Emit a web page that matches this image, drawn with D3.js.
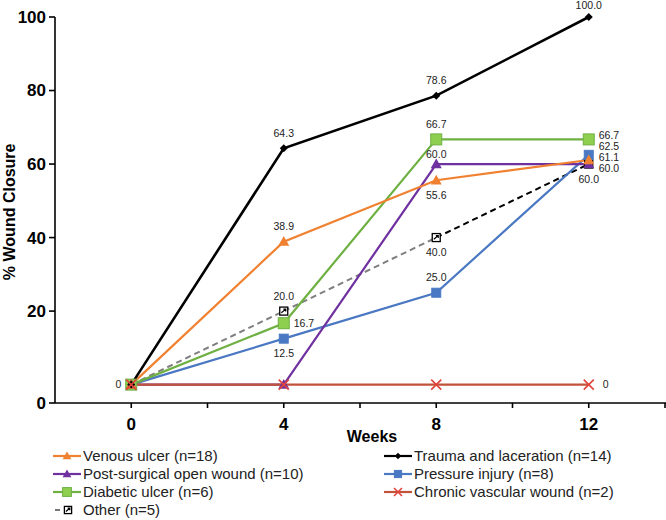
<!DOCTYPE html>
<html><head><meta charset="utf-8">
<script src="https://cdn.jsdelivr.net/npm/d3@7"></script>
<style>body{margin:0;background:#fff}svg{display:block;font-family:"Liberation Sans",Arial,sans-serif}</style>
</head><body><svg id="c" width="666" height="520"></svg>
<script>
const weeks = [0, 4, 8, 12];
const xTickValues = [0, 2, 4, 6, 8, 10, 12, 14];
const xTickLabels = ["0", "4", "8", "12"];
const yTickValues = [20, 40, 60, 80, 100];
const yTickLabels = ["20", "40", "60", "80", "100"];
const yBottomLabel = "0";
const seriesNames = ["Venous ulcer (n=18)", "Trauma and laceration (n=14)", "Post-surgical open wound (n=10)", "Pressure injury (n=8)", "Diabetic ulcer (n=6)", "Chronic vascular wound (n=2)", "Other (n=5)"];
const venous = [0, 38.9, 55.6, 61.1];
const trauma = [0, 64.3, 78.6, 100.0];
const postSurgical = [0, 0, 60.0, 60.0];
const pressure = [0, 12.5, 25.0, 62.5];
const diabetic = [0, 16.7, 66.7, 66.7];
const chronic = [0, 0, 0, 0];
const other = [0, 20.0, 40.0, 60.0];

// label placement (a=above, A=close above, b=below, r=right, l=left, null=none)
const placeVenous = [null, "a", "b", "r"];
const placeTrauma = [null, "a", "a", "a"];
const placePost = [null, null, "A", "r"];
const placePressure = [null, "b", "a", "r"];
const placeDiabetic = [null, "r", "a", "r"];
const placeChronic = ["l", null, null, "r"];
const placeOther = [null, "a", "b", "b"];

const svg = d3.select("#c");
const x = d3.scaleLinear().domain([-2, 14]).range([55, 665]);
const y = d3.scaleLinear().domain([-5, 100]).range([403, 17]);

const series = [
  {name: seriesNames[6], vals: other, place: placeOther, color: "#7f7f7f", dash: "6,4", width: 2, marker: "other", key: "other"},
  {name: seriesNames[3], vals: pressure, place: placePressure, color: "#4a78c2", width: 2.2, marker: "square", size: 9, fill: "#4a78c2", key: "pressure"},
  {name: seriesNames[4], vals: diabetic, place: placeDiabetic, color: "#6fb043", width: 2.2, marker: "square", size: 11, fill: "#8fcf4f", stroke: "#6fb043", key: "diabetic"},
  {name: seriesNames[2], vals: postSurgical, place: placePost, color: "#7031a0", width: 2.2, marker: "triangle", size: 10, fill: "#7031a0", key: "post"},
  {name: seriesNames[0], vals: venous, place: placeVenous, color: "#f08130", width: 2.2, marker: "triangle", size: 10, fill: "#f08130", key: "venous"},
  {name: seriesNames[1], vals: trauma, place: placeTrauma, color: "#000000", width: 2.6, marker: "diamond", size: 8, fill: "#000", key: "trauma"},
  {name: seriesNames[5], vals: chronic, place: placeChronic, color: "#c0533a", width: 2.2, marker: "x", size: 10, fill: "none", xcolor: "#e0443c", key: "chronic"}
];

// axes
const gx = svg.append("g").attr("transform", `translate(0,${y(-5)})`);
gx.append("line").attr("x1", x(-2)).attr("x2", 666).attr("stroke", "#000").attr("stroke-width", 1.6);
gx.selectAll("line.t").data(xTickValues).join("line").attr("class", "t")
  .attr("x1", d => x(d)).attr("x2", d => x(d)).attr("y1", 0).attr("y2", 5).attr("stroke", "#000").attr("stroke-width", 1.6);
gx.selectAll("text").data(weeks).join("text")
  .attr("x", d => x(d)).attr("y", 27).attr("text-anchor", "middle")
  .attr("font-size", 17).attr("font-weight", "bold").text((d, i) => xTickLabels[i]);
svg.append("text").attr("x", 372).attr("y", 442).attr("text-anchor", "middle")
  .attr("font-size", 16).attr("font-weight", "bold").text("Weeks");

const gy = svg.append("g").attr("transform", `translate(${x(-2)},0)`);
gy.append("line").attr("y1", y(100)).attr("y2", y(-5)).attr("stroke", "#000").attr("stroke-width", 1.6);
const yAll = yTickValues.concat([-5]);
const yLab = yTickLabels.concat([yBottomLabel]);
gy.selectAll("line.t").data(yAll).join("line").attr("class", "t")
  .attr("x1", -6).attr("x2", 0).attr("y1", d => y(d)).attr("y2", d => y(d)).attr("stroke", "#000").attr("stroke-width", 1.6);
gy.selectAll("text").data(yAll).join("text")
  .attr("x", -9).attr("y", d => y(d)).attr("dy", "0.35em").attr("text-anchor", "end")
  .attr("font-size", 17).attr("font-weight", "bold").text((d, i) => yLab[i]);
svg.append("text").attr("transform", `translate(15,${y(47)}) rotate(-90)`).attr("text-anchor", "middle")
  .attr("font-size", 16).attr("font-weight", "bold").text("% Wound Closure");

// lines
const line = d3.line().x((d, i) => x(weeks[i])).y(d => y(d));
series.forEach(s => {
  if (s.key === "other") {
    for (let i = 0; i < s.vals.length - 1; i++) {
      const seg = d3.line().x((d, j) => x(weeks[i + j])).y(d => y(d));
      svg.append("path").attr("d", seg([s.vals[i], s.vals[i + 1]]))
        .attr("fill", "none").attr("stroke", i === 2 ? "#000" : s.color).attr("stroke-width", s.width).attr("stroke-dasharray", s.dash);
    }
  } else {
    svg.append("path").attr("d", line(s.vals)).attr("fill", "none").attr("stroke", s.color).attr("stroke-width", s.width);
  }
});

function drawMarker(g, s, cx, cy, scale) {
  const k = scale || 1;
  if (s.marker === "square") {
    const z = s.size * k;
    g.append("rect").attr("x", cx - z / 2).attr("y", cy - z / 2).attr("width", z).attr("height", z)
      .attr("fill", s.fill).attr("stroke", s.stroke || s.fill).attr("stroke-width", 1);
  } else if (s.marker === "triangle") {
    const z = s.size * k;
    g.append("path").attr("d", `M${cx},${cy - z * 0.55}L${cx + z * 0.55},${cy + z * 0.42}L${cx - z * 0.55},${cy + z * 0.42}Z`).attr("fill", s.fill);
  } else if (s.marker === "diamond") {
    const z = s.size * k / 2;
    g.append("path").attr("d", `M${cx},${cy - z}L${cx + z},${cy}L${cx},${cy + z}L${cx - z},${cy}Z`).attr("fill", s.fill);
  } else if (s.marker === "x") {
    const z = s.size * k / 2;
    g.append("path").attr("d", `M${cx - z},${cy - z}L${cx + z},${cy + z}M${cx - z},${cy + z}L${cx + z},${cy - z}`)
      .attr("stroke", s.xcolor).attr("stroke-width", 1.6);
  } else if (s.marker === "other") {
    const z = 8 * k;
    g.append("rect").attr("x", cx - z / 2).attr("y", cy - z / 2).attr("width", z).attr("height", z)
      .attr("fill", "#fff").attr("stroke", "#000").attr("stroke-width", 1.3);
    g.append("path").attr("d", `M${cx - z * 0.3},${cy + z * 0.2}L${cx + z * 0.25},${cy - z * 0.25}M${cx - z * 0.05},${cy - z * 0.25}L${cx + z * 0.25},${cy - z * 0.25}L${cx + z * 0.25},${cy + z * 0.05}`)
      .attr("stroke", "#000").attr("stroke-width", 1.2).attr("fill", "none");
  }
}

const gm = svg.append("g");
series.forEach(s => s.vals.forEach((v, i) => drawMarker(gm, s, x(weeks[i]), y(v))));

// data labels
const gl = svg.append("g").attr("font-size", 10.5).attr("fill", "#222");
const last = weeks.length - 1;
const rightStack = series.filter(s => s.place[last] === "r" && s.key !== "chronic")
  .sort((a, b) => b.vals[last] - a.vals[last]);
const fmt = v => v === 0 ? "0" : v.toFixed(1);
series.forEach(s => s.vals.forEach((v, i) => {
  const p = s.place[i];
  if (!p) return;
  const cx = x(weeks[i]), cy = y(v);
  let tx = cx, ty = cy, anchor = "middle";
  if (p === "a") ty = cy - (v >= 100 ? 12 : 15);
  if (p === "A") ty = cy - 10;
  if (p === "b") ty = cy + 15;
  if (p === "l") { tx = cx - 10; anchor = "end"; }
  if (p === "r") {
    tx = cx + 10; anchor = "start";
    const idx = i === last ? rightStack.indexOf(s) : -1;
    if (idx >= 0) ty = y(rightStack[0].vals[last]) - 4 + idx * 11;
    else if (i === last) tx = cx + 14;
  }
  gl.append("text").attr("x", tx).attr("y", ty).attr("dy", "0.35em").attr("text-anchor", anchor).text(fmt(v));
}));

// legend
const leftCol = ["venous", "post", "diabetic", "other"];
const rightCol = ["trauma", "pressure", "chronic"];
const lg = svg.append("g").attr("font-size", 15).attr("fill", "#222");
function legendItem(s, lx, ly) {
  if (s.key === "other") {
    lg.append("line").attr("x1", lx + 2).attr("x2", lx + 7).attr("y1", ly).attr("y2", ly).attr("stroke", "#555").attr("stroke-width", 1.6);
    drawMarker(lg, s, lx + 15, ly, 0.9);
  } else {
    lg.append("line").attr("x1", lx).attr("x2", lx + 28).attr("y1", ly).attr("y2", ly).attr("stroke", s.color).attr("stroke-width", 2.2);
    drawMarker(lg, s, lx + 14, ly, 0.8);
  }
  lg.append("text").attr("x", lx + 30).attr("y", ly).attr("dy", "0.35em").text(s.name);
}
leftCol.forEach((k, i) => legendItem(series.find(s => s.key === k), 53, 456 + i * 18));
rightCol.forEach((k, i) => legendItem(series.find(s => s.key === k), 384, 456 + i * 18));
</script></body></html>
